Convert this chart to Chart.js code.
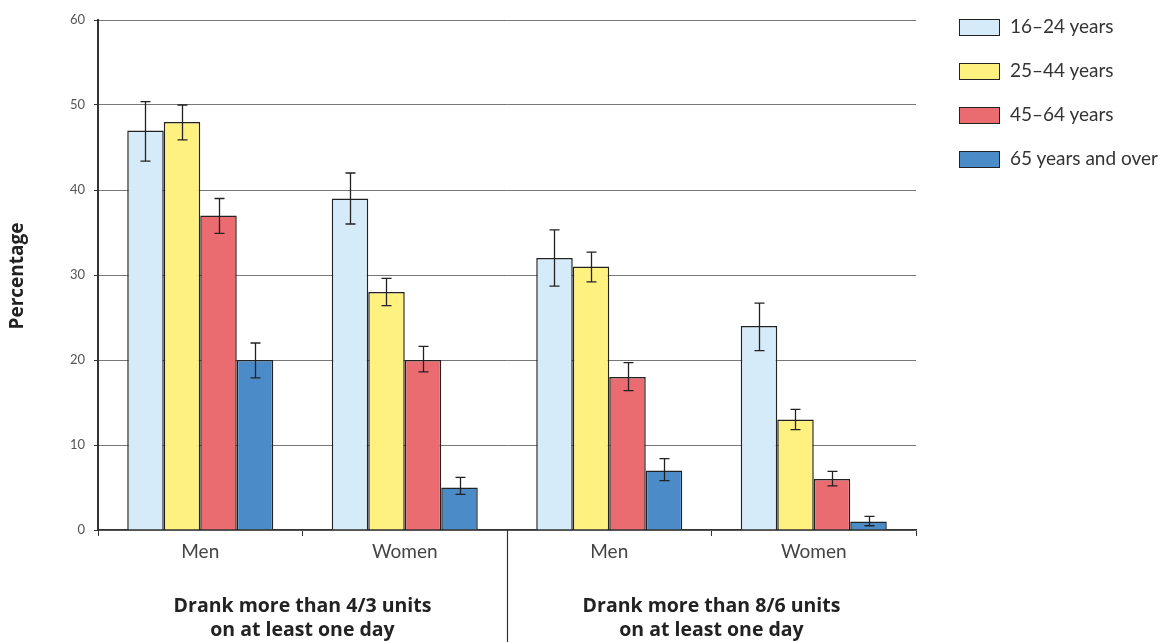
<!DOCTYPE html>
<html>
<head>
<meta charset="utf-8">
<script src="https://cdn.jsdelivr.net/npm/chart.js@4/dist/chart.umd.min.js"></script>
<style>
  html, body { margin: 0; padding: 0; background: #fff; }
  .wrap { position: relative; width: 1161px; height: 642px; }
  canvas { position: absolute; left: 0; top: 0; }
  .legend { position: absolute; left: 959px; top: 0; font-family: Lato, sans-serif; font-size: 19px; color: #333; }
  .legend .item { position: absolute; left: 0; height: 20px; white-space: nowrap; }
  .legend .box { position: absolute; left: 0; top: 1px; width: 39px; height: 15px; border: 1.5px solid #222; }
  .legend .txt { position: absolute; left: 51px; top: -4px; }
</style>
</head>
<body>
<div class="wrap">
  <canvas id="drinkChart" width="1161" height="642"></canvas>
  <div class="legend" id="legend"></div>
</div>
<script>
const categories = ['Men', 'Women', 'Men', 'Women'];
const groupLabels = [
  ['Drank more than 4/3 units', 'on at least one day'],
  ['Drank more than 8/6 units', 'on at least one day'],
];
const seriesNames = ['16\u201324 years', '25\u201344 years', '45\u201364 years', '65 years and over'];
const seriesColors = ['#d6ebf9', '#fff17f', '#ea6b70', '#4a8bc8'];

const age16to24 = [47, 39, 32, 24];
const age25to44 = [48, 28, 31, 13];
const age45to64 = [37, 20, 18, 6];
const age65plus = [20, 5, 7, 1];

const low16to24 = [43.4, 36.0, 28.7, 21.1];
const high16to24 = [50.4, 42.0, 35.3, 26.7];
const low25to44 = [45.9, 26.4, 29.2, 11.8];
const high25to44 = [50.0, 29.6, 32.7, 14.2];
const low45to64 = [34.9, 18.6, 16.4, 5.2];
const high45to64 = [39.0, 21.6, 19.7, 6.9];
const low65plus = [17.9, 4.2, 5.8, 0.5];
const high65plus = [22.0, 6.2, 8.4, 1.6];

const yTicks = [0, 10, 20, 30, 40, 50, 60];

const values = [age16to24, age25to44, age45to64, age65plus];
const lows = [low16to24, low25to44, low45to64, low65plus];
const highs = [high16to24, high25to44, high45to64, high65plus];

const FONT = 'Lato, "Open Sans", sans-serif';
const BOLD_FONT = '"Open Sans", Lato, sans-serif';

const errorBars = {
  id: 'errorBars',
  afterDatasetsDraw(chart) {
    const ctx = chart.ctx;
    const y = chart.scales.y;
    ctx.save();
    ctx.strokeStyle = '#222';
    ctx.lineWidth = 1.3;
    chart.data.datasets.forEach((ds, di) => {
      const meta = chart.getDatasetMeta(di);
      meta.data.forEach((bar, i) => {
        const x = Math.round(bar.x) + 0.5;
        const yl = y.getPixelForValue(lows[di][i]);
        const yh = y.getPixelForValue(highs[di][i]);
        ctx.beginPath();
        ctx.moveTo(x, yl); ctx.lineTo(x, yh);
        ctx.moveTo(x - 5, yl); ctx.lineTo(x + 5, yl);
        ctx.moveTo(x - 5, yh); ctx.lineTo(x + 5, yh);
        ctx.stroke();
      });
    });
    ctx.restore();
  }
};

const extras = {
  id: 'extras',
  afterDraw(chart) {
    const ctx = chart.ctx;
    const area = chart.chartArea;
    const x = chart.scales.x;
    ctx.save();
    // divider between the two groups
    const mid = (x.getPixelForValue(1) + x.getPixelForValue(2)) / 2;
    ctx.strokeStyle = '#333';
    ctx.lineWidth = 1.2;
    ctx.beginPath();
    ctx.moveTo(Math.round(mid) + 0.5, area.bottom);
    ctx.lineTo(Math.round(mid) + 0.5, 642);
    ctx.stroke();
    // group labels
    ctx.fillStyle = '#222';
    ctx.font = 'bold 19.5px ' + BOLD_FONT;
    ctx.textAlign = 'center';
    ctx.textBaseline = 'middle';
    groupLabels.forEach((lines, g) => {
      const cx = (x.getPixelForValue(g * 2) + x.getPixelForValue(g * 2 + 1)) / 2;
      ctx.fillText(lines[0], cx, 606);
      ctx.fillText(lines[1], cx, 630);
    });
    // y title
    ctx.font = 'bold 19px ' + BOLD_FONT;
    ctx.translate(18, 276);
    ctx.rotate(-Math.PI / 2);
    ctx.fillText('Percentage', 0, 0);
    ctx.restore();
  }
};

new Chart(document.getElementById('drinkChart'), {
  type: 'bar',
  data: {
    labels: categories,
    datasets: values.map((v, i) => ({
      label: seriesNames[i],
      data: v,
      backgroundColor: seriesColors[i],
      borderColor: '#222',
      borderWidth: 1.5,
      barPercentage: 1,
      categoryPercentage: 0.714,
    })),
  },
  options: {
    responsive: false,
    animation: false,
    layout: { padding: { top: 20, right: 245, left: 0, bottom: 0 } },
    plugins: {
      legend: { display: false },
      tooltip: { enabled: false },
    },
    scales: {
      x: {
        afterFit: (s) => { s.height = 112; },
        border: { color: '#333', width: 1.5 },
        grid: { drawOnChartArea: false, drawTicks: true, tickLength: 6, tickColor: '#333', offset: true },
        ticks: { color: '#444', font: { family: FONT, size: 19 }, padding: 4 },
      },
      y: {
        min: 0,
        max: 60,
        afterFit: (s) => { s.width = 98; },
        afterBuildTicks: (s) => { s.ticks = yTicks.map((v) => ({ value: v })); },
        border: { color: '#333', width: 2 },
        grid: { color: '#777', lineWidth: 1, tickLength: 4, tickColor: '#333' },
        ticks: { color: '#555', font: { family: FONT, size: 13 }, padding: 9 },
      },
    },
  },
  plugins: [errorBars, extras],
});

const legend = document.getElementById('legend');
const legendTops = [18, 62, 106, 150];
seriesNames.forEach((name, i) => {
  const item = document.createElement('div');
  item.className = 'item';
  item.style.top = legendTops[i] + 'px';
  item.innerHTML = '<div class="box" style="background:' + seriesColors[i] + '"></div><div class="txt">' + name + '</div>';
  legend.appendChild(item);
});
</script>
</body>
</html>
